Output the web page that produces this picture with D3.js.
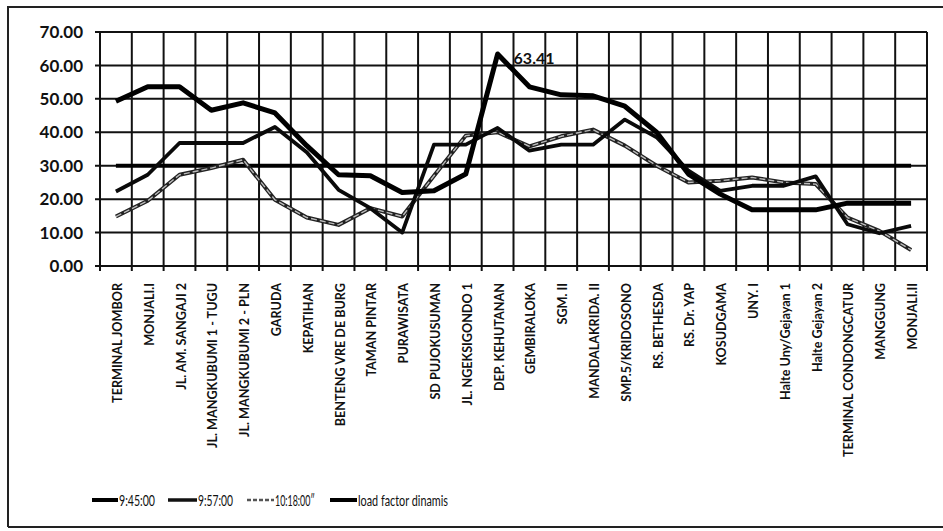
<!DOCTYPE html>
<html>
<head>
<meta charset="utf-8">
<script src="https://cdn.jsdelivr.net/npm/d3@7"></script>
<style>
  html,body{margin:0;padding:0;background:#fff;}
  svg{display:block;}
  text{font-family:Lato,"Open Sans",Arial,sans-serif;fill:#111;}
</style>
</head>
<body>
<svg id="chart" width="943" height="531"></svg>
<script>
const categories = ["TERMINAL JOMBOR","MONJALI.I","JL. AM. SANGAJI 2","JL. MANGKUBUMI 1 - TUGU","JL. MANGKUBUMI 2 - PLN","GARUDA","KEPATIHAN","BENTENG VRE DE BURG","TAMAN PINTAR","PURAWISATA","SD PUJOKUSUMAN","JL. NGEKSIGONDO 1","DEP. KEHUTANAN","GEMBIRALOKA","SGM. II","MANDALAKRIDA. II","SMP.5/KRIDOSONO","RS. BETHESDA","RS. Dr. YAP","KOSUDGAMA","UNY. I","Halte Uny/Gejayan 1","Halte Gejayan 2","TERMINAL CONDONGCATUR","MANGGUNG","MONJALI.II"];

const s0945 = [49.3,53.6,53.6,46.6,48.8,45.8,36.0,27.3,27.0,22.0,22.5,27.5,63.41,53.6,51.2,50.9,47.8,40.0,27.5,21.5,16.8,16.8,16.8,18.8,18.8,18.8];
const s0957 = [22.3,27.3,36.8,36.8,36.8,41.6,34.0,22.8,17.3,10.0,36.3,36.3,41.3,34.5,36.3,36.3,43.8,38.5,28.5,22.5,24.0,24.0,26.8,12.5,9.8,12.0];
const s1018 = [14.8,19.5,27.3,29.3,31.8,19.8,14.5,12.3,17.3,14.8,27.0,39.0,40.0,35.8,38.8,40.8,36.0,30.0,25.0,25.5,26.5,25.0,24.5,14.5,10.5,4.8];
const sLoad = [30,30,30,30,30,30,30,30,30,30,30,30,30,30,30,30,30,30,30,30,30,30,30,30,30,30];

const seriesNames = ["9:45:00","9:57:00","10:18:00\u02BA","load factor dinamis"];
const yTicks = [0,10,20,30,40,50,60,70];

const svg = d3.select("#chart");
const L = 100, R = 927, T = 32, B = 266;

const x = d3.scalePoint().domain(categories).range([L, R]).padding(0.5);
const band = d3.scaleBand().domain(categories).range([L, R]);
const y = d3.scaleLinear().domain([0, 70]).range([B, T]);

// outer frame (scanned border)
svg.append("path").attr("d", "M8,527 L8,7 L943,7").attr("fill","none").attr("stroke","#222").attr("stroke-width",2);
svg.append("line").attr("x1",8).attr("x2",943).attr("y1",527).attr("y2",527).attr("stroke","#222").attr("stroke-width",2);

// horizontal gridlines
const grid = svg.append("g");
grid.selectAll("line.h").data(yTicks).join("line")
  .attr("x1", L - 5).attr("x2", R)
  .attr("y1", d => y(d)).attr("y2", d => y(d))
  .attr("stroke", "#111").attr("stroke-width", 2);

// vertical gridlines at category boundaries
const bounds = categories.map(c => band(c)).concat([R]);
grid.selectAll("line.v").data(bounds).join("line")
  .attr("x1", d => d).attr("x2", d => d)
  .attr("y1", T).attr("y2", B + 5)
  .attr("stroke", "#111").attr("stroke-width", 2);

// y tick labels
svg.append("g").selectAll("text").data(yTicks).join("text")
  .attr("x", 83).attr("y", d => y(d))
  .attr("dy", "0.36em")
  .attr("text-anchor", "end")
  .style("font-size", "17px").style("font-weight", "bold")
  .text(d => d3.format(".2f")(d));

// category labels
svg.append("g").selectAll("text").data(categories).join("text")
  .attr("transform", d => `translate(${x(d) + 6},283) rotate(-90)`)
  .attr("text-anchor", "end")
  .style("font-size", "12.6px").style("font-weight", "bold")
  .text(d => d);

const line = d3.line().x((d, i) => x(categories[i])).y(d => y(d));

// load factor line
svg.append("path").datum(sLoad).attr("d", line)
  .attr("fill","none").attr("stroke","#000").attr("stroke-width",4);

// 10:18 series: grey line rendered with dark edges (scan look)
svg.append("path").datum(s1018).attr("d", line)
  .attr("fill","none").attr("stroke","#222").attr("stroke-width",4).attr("stroke-linejoin","round");
svg.append("path").datum(s1018).attr("d", line)
  .attr("fill","none").attr("stroke","#bbb").attr("stroke-width",1.4).attr("stroke-dasharray","6 3").attr("stroke-linejoin","round");

// 9:57 series
svg.append("path").datum(s0957).attr("d", line)
  .attr("fill","none").attr("stroke","#0a0a0a").attr("stroke-width",3.8).attr("stroke-linejoin","round");

// 9:45 series
svg.append("path").datum(s0945).attr("d", line)
  .attr("fill","none").attr("stroke","#000").attr("stroke-width",5).attr("stroke-linejoin","round");

// peak label
const maxV = d3.max(s0945);
const maxI = s0945.indexOf(maxV);
svg.append("text")
  .attr("x", x(categories[maxI]) + 16).attr("y", y(maxV) + 3)
  .attr("dominant-baseline","central")
  .style("font-size","16px").style("font-weight","bold")
  .text(maxV.toFixed(2));

// legend
const legendItems = [
  {name: seriesNames[0], x1: 92, x2: 118, w: 4, c: "#000", len: 36},
  {name: seriesNames[1], x1: 168, x2: 197, w: 3.5, c: "#111", len: 35},
  {name: seriesNames[2], x1: 247, x2: 274, w: 2.5, c: "#555", dash: "4 2", len: 40},
  {name: seriesNames[3], x1: 330, x2: 357, w: 4, c: "#000", len: 90}
];
const lg = svg.append("g");
lg.selectAll("line").data(legendItems).join("line")
  .attr("x1", d => d.x1).attr("x2", d => d.x2).attr("y1", 500).attr("y2", 500)
  .attr("stroke", d => d.c).attr("stroke-width", d => d.w)
  .attr("stroke-dasharray", d => d.dash || null);
lg.selectAll("text").data(legendItems).join("text")
  .attr("x", d => d.x2 + 1).attr("y", 500).attr("dy","0.35em")
  .attr("textLength", d => d.len).attr("lengthAdjust","spacingAndGlyphs")
  .style("font-size","16px")
  .text(d => d.name);
</script>
</body>
</html>
